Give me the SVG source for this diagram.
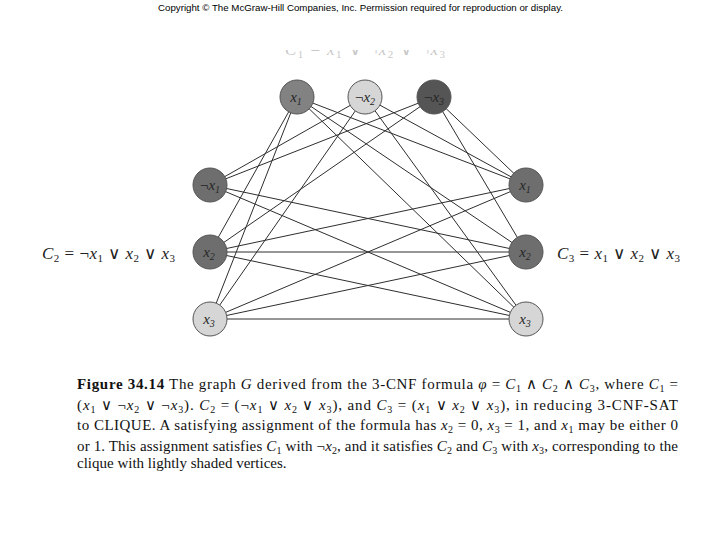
<svg xmlns="http://www.w3.org/2000/svg" width="720" height="540" viewBox="0 0 720 540">
<style>
.node{stroke:#555;stroke-width:1}
.dark{fill:#6e6e6e}
.darker{fill:#555}
.mid{fill:#828282}
.light{fill:#d6d6d6}
.lbl{font-family:"Liberation Serif",serif;font-style:italic;font-size:15px;fill:#262626;text-anchor:middle}
.edges line{stroke:#2e2e2e;stroke-width:1}
.cap{font-family:"Liberation Serif",serif;font-size:15px;fill:#111}
.side{font-family:"Liberation Serif",serif;font-size:17px;fill:#222}
.copy{font-family:"Liberation Sans",sans-serif;font-size:9.5px;fill:#000}
</style>
<defs>
<clipPath id="topclip"><rect x="0" y="50" width="720" height="10"/></clipPath>
</defs>
<rect width="720" height="540" fill="#fff"/>
<text class="copy" x="158" y="11" textLength="405" lengthAdjust="spacingAndGlyphs">Copyright © The McGraw-Hill Companies, Inc. Permission required for reproduction or display.</text>
<g clip-path="url(#topclip)" opacity="0.25">
<text class="side" x="285" y="55" textLength="160" lengthAdjust="spacing"><tspan font-style="italic">C</tspan><tspan font-size="11" dy="3">1</tspan><tspan dy="-3"> = </tspan><tspan font-style="italic">x</tspan><tspan font-size="11" dy="3">1</tspan><tspan dy="-3"> ∨ ¬</tspan><tspan font-style="italic">x</tspan><tspan font-size="11" dy="3">2</tspan><tspan dy="-3"> ∨ ¬</tspan><tspan font-style="italic">x</tspan><tspan font-size="11" dy="3">3</tspan></text>
</g>
<g id="connectors" class="edges">
<line x1="297" y1="97" x2="210" y2="252"/>
<line x1="297" y1="97" x2="210" y2="319"/>
<line x1="365" y1="97" x2="210" y2="185"/>
<line x1="365" y1="97" x2="210" y2="319"/>
<line x1="434" y1="97" x2="210" y2="185"/>
<line x1="434" y1="97" x2="210" y2="252"/>
<line x1="297" y1="97" x2="526" y2="185"/>
<line x1="297" y1="97" x2="526" y2="252"/>
<line x1="297" y1="97" x2="526" y2="319"/>
<line x1="365" y1="97" x2="526" y2="185"/>
<line x1="365" y1="97" x2="526" y2="319"/>
<line x1="434" y1="97" x2="526" y2="185"/>
<line x1="434" y1="97" x2="526" y2="252"/>
<line x1="210" y1="185" x2="526" y2="252"/>
<line x1="210" y1="185" x2="526" y2="319"/>
<line x1="210" y1="252" x2="526" y2="185"/>
<line x1="210" y1="252" x2="526" y2="252"/>
<line x1="210" y1="252" x2="526" y2="319"/>
<line x1="210" y1="319" x2="526" y2="185"/>
<line x1="210" y1="319" x2="526" y2="252"/>
<line x1="210" y1="319" x2="526" y2="319"/>
</g>
<g id="c1-x1"><circle class="node mid" cx="297" cy="97" r="17"/><text class="lbl" x="296" y="102">x<tspan font-size="10" dy="3">1</tspan></text></g>
<g id="c1-nx2"><circle class="node light" cx="365" cy="97" r="17"/><text class="lbl" x="365" y="102"><tspan font-style="normal">¬</tspan>x<tspan font-size="10" dy="3">2</tspan></text></g>
<g id="c1-nx3"><circle class="node darker" cx="434" cy="97" r="17"/><text class="lbl" x="434" y="102"><tspan font-style="normal">¬</tspan>x<tspan font-size="10" dy="3">3</tspan></text></g>
<g id="c2-nx1"><circle class="node dark" cx="210" cy="185" r="17"/><text class="lbl" x="210" y="190"><tspan font-style="normal">¬</tspan>x<tspan font-size="10" dy="3">1</tspan></text></g>
<g id="c2-x2"><circle class="node dark" cx="210" cy="252" r="17"/><text class="lbl" x="209" y="257">x<tspan font-size="10" dy="3">2</tspan></text></g>
<g id="c2-x3"><circle class="node light" cx="210" cy="319" r="17"/><text class="lbl" x="209" y="324">x<tspan font-size="10" dy="3">3</tspan></text></g>
<g id="c3-x1"><circle class="node dark" cx="526" cy="185" r="17"/><text class="lbl" x="525" y="190">x<tspan font-size="10" dy="3">1</tspan></text></g>
<g id="c3-x2"><circle class="node dark" cx="526" cy="252" r="17"/><text class="lbl" x="525" y="257">x<tspan font-size="10" dy="3">2</tspan></text></g>
<g id="c3-x3"><circle class="node light" cx="526" cy="319" r="17"/><text class="lbl" x="525" y="324">x<tspan font-size="10" dy="3">3</tspan></text></g>
<text class="side" x="42" y="259" textLength="133" lengthAdjust="spacing"><tspan font-style="italic">C</tspan><tspan font-size="11" dy="3">2</tspan><tspan dy="-3"> = ¬</tspan><tspan font-style="italic">x</tspan><tspan font-size="11" dy="3">1</tspan><tspan dy="-3"> ∨ </tspan><tspan font-style="italic">x</tspan><tspan font-size="11" dy="3">2</tspan><tspan dy="-3"> ∨ </tspan><tspan font-style="italic">x</tspan><tspan font-size="11" dy="3">3</tspan></text>
<text class="side" x="557" y="259" textLength="123" lengthAdjust="spacing"><tspan font-style="italic">C</tspan><tspan font-size="11" dy="3">3</tspan><tspan dy="-3"> = </tspan><tspan font-style="italic">x</tspan><tspan font-size="11" dy="3">1</tspan><tspan dy="-3"> ∨ </tspan><tspan font-style="italic">x</tspan><tspan font-size="11" dy="3">2</tspan><tspan dy="-3"> ∨ </tspan><tspan font-style="italic">x</tspan><tspan font-size="11" dy="3">3</tspan></text>
<g id="caption" class="cap">
<text x="77" y="389" textLength="601" lengthAdjust="spacing"><tspan font-weight="bold">Figure 34.14</tspan>   The graph <tspan font-style="italic">G</tspan> derived from the 3-CNF formula <tspan font-style="italic">φ</tspan> = <tspan font-style="italic">C</tspan><tspan font-size="10" dy="3">1</tspan><tspan dy="-3"> ∧ </tspan><tspan font-style="italic">C</tspan><tspan font-size="10" dy="3">2</tspan><tspan dy="-3"> ∧ </tspan><tspan font-style="italic">C</tspan><tspan font-size="10" dy="3">3</tspan><tspan dy="-3">, where </tspan><tspan font-style="italic">C</tspan><tspan font-size="10" dy="3">1</tspan><tspan dy="-3"> =</tspan></text>
<text x="77" y="410" textLength="601" lengthAdjust="spacing">(<tspan font-style="italic">x</tspan><tspan font-size="10" dy="3">1</tspan><tspan dy="-3"> ∨ ¬</tspan><tspan font-style="italic">x</tspan><tspan font-size="10" dy="3">2</tspan><tspan dy="-3"> ∨ ¬</tspan><tspan font-style="italic">x</tspan><tspan font-size="10" dy="3">3</tspan><tspan dy="-3">). </tspan><tspan font-style="italic">C</tspan><tspan font-size="10" dy="3">2</tspan><tspan dy="-3"> = (¬</tspan><tspan font-style="italic">x</tspan><tspan font-size="10" dy="3">1</tspan><tspan dy="-3"> ∨ </tspan><tspan font-style="italic">x</tspan><tspan font-size="10" dy="3">2</tspan><tspan dy="-3"> ∨ </tspan><tspan font-style="italic">x</tspan><tspan font-size="10" dy="3">3</tspan><tspan dy="-3">), and </tspan><tspan font-style="italic">C</tspan><tspan font-size="10" dy="3">3</tspan><tspan dy="-3"> = (</tspan><tspan font-style="italic">x</tspan><tspan font-size="10" dy="3">1</tspan><tspan dy="-3"> ∨ </tspan><tspan font-style="italic">x</tspan><tspan font-size="10" dy="3">2</tspan><tspan dy="-3"> ∨ </tspan><tspan font-style="italic">x</tspan><tspan font-size="10" dy="3">3</tspan><tspan dy="-3">), in reducing 3-CNF-SAT</tspan></text>
<text x="77" y="430" textLength="601" lengthAdjust="spacing">to CLIQUE. A satisfying assignment of the formula has <tspan font-style="italic">x</tspan><tspan font-size="10" dy="3">2</tspan><tspan dy="-3"> = 0, </tspan><tspan font-style="italic">x</tspan><tspan font-size="10" dy="3">3</tspan><tspan dy="-3"> = 1, and </tspan><tspan font-style="italic">x</tspan><tspan font-size="10" dy="3">1</tspan><tspan dy="-3"> may be either 0</tspan></text>
<text x="77" y="451" textLength="601" lengthAdjust="spacing">or 1. This assignment satisfies <tspan font-style="italic">C</tspan><tspan font-size="10" dy="3">1</tspan><tspan dy="-3"> with ¬</tspan><tspan font-style="italic">x</tspan><tspan font-size="10" dy="3">2</tspan><tspan dy="-3">, and it satisfies </tspan><tspan font-style="italic">C</tspan><tspan font-size="10" dy="3">2</tspan><tspan dy="-3"> and </tspan><tspan font-style="italic">C</tspan><tspan font-size="10" dy="3">3</tspan><tspan dy="-3"> with </tspan><tspan font-style="italic">x</tspan><tspan font-size="10" dy="3">3</tspan><tspan dy="-3">, corresponding to the</tspan></text>
<text x="77" y="468">clique with lightly shaded vertices.</text>
</g>
</svg>
